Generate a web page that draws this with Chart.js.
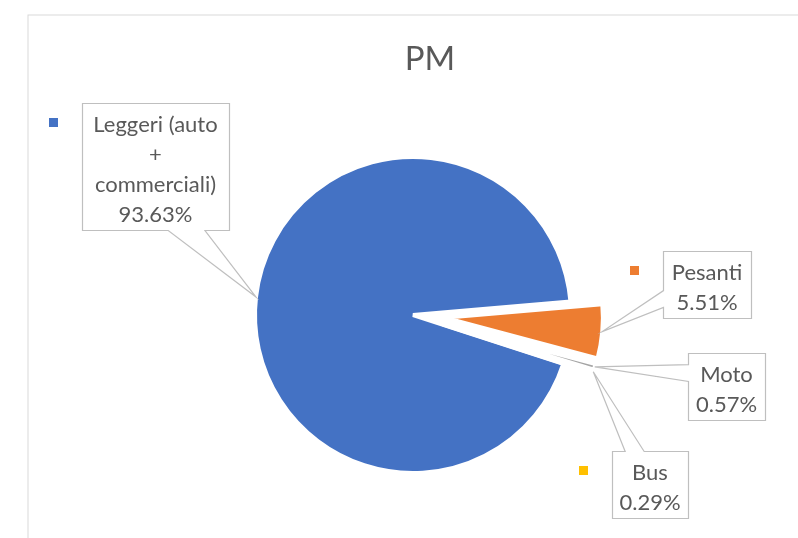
<!DOCTYPE html>
<html>
<head>
<meta charset="utf-8">
<title>PM</title>
<script src="https://cdn.jsdelivr.net/npm/chart.js@4.4.1/dist/chart.umd.min.js"></script>
<style>
    html, body { margin: 0; padding: 0; background: #fff; }
</style>
</head>
<body>
<canvas id="pmChart" width="798" height="538"></canvas>
<script>
const categories = ["Leggeri (auto + commerciali)", "Pesanti", "Moto", "Bus"];
const shares = [93.63, 5.51, 0.57, 0.29];
const sliceColors = ["#4472C4", "#ED7D31", "#A5A5A5", "#FFC000"];

// how far each slice is pulled out of the pie (px)
const explode = [0, 32, 31, 31];

// callout boxes: top-left corner and width, height follows the text
const callouts = [
    { x: 82, y: 103, w: 147 },
    { x: 663, y: 251, w: 88 },
    { x: 688, y: 353, w: 77 },
    { x: 612, y: 451, w: 76 },
];

const textColor = "#595959";
const labelFont = "22px Lato";
const lineH = 30;

function wrapText(ctx, text, maxW) {
    var words = text.split(" ");
    var lines = [];
    var cur = "";
    for (var i in words) {
        var test = cur ? cur + " " + words[i] : words[i];
        if (cur && ctx.measureText(test).width > maxW) {
            lines.push(cur);
            cur = words[i];
        } else {
            cur = test;
        }
    }
    if (cur) lines.push(cur);
    return lines;
}

// rectangle callout with a wedge pointing at (tx, ty)
function drawCallout(ctx, b, tx, ty) {
    var x0 = b.x + 0.5, y0 = b.y + 0.5;
    var x1 = x0 + b.w, y1 = y0 + b.h;
    var dx = (tx - (x0 + b.w / 2)) / b.w;
    var dy = (ty - (y0 + b.h / 2)) / b.h;
    var side;
    if (Math.abs(dx) > Math.abs(dy)) side = dx > 0 ? "right" : "left";
    else side = dy > 0 ? "bottom" : "top";
    var fx = dx > 0 ? [7 / 12, 10 / 12] : [2 / 12, 5 / 12];
    var fy = dy > 0 ? [7 / 12, 10 / 12] : [2 / 12, 5 / 12];

    ctx.beginPath();
    ctx.moveTo(x0, y0);
    if (side === "top") {
        ctx.lineTo(x0 + b.w * fx[0], y0);
        ctx.lineTo(tx, ty);
        ctx.lineTo(x0 + b.w * fx[1], y0);
    }
    ctx.lineTo(x1, y0);
    if (side === "right") {
        ctx.lineTo(x1, y0 + b.h * fy[0]);
        ctx.lineTo(tx, ty);
        ctx.lineTo(x1, y0 + b.h * fy[1]);
    }
    ctx.lineTo(x1, y1);
    if (side === "bottom") {
        ctx.lineTo(x0 + b.w * fx[1], y1);
        ctx.lineTo(tx, ty);
        ctx.lineTo(x0 + b.w * fx[0], y1);
    }
    ctx.lineTo(x0, y1);
    if (side === "left") {
        ctx.lineTo(x0, y0 + b.h * fy[1]);
        ctx.lineTo(tx, ty);
        ctx.lineTo(x0, y0 + b.h * fy[0]);
    }
    ctx.closePath();
    ctx.fillStyle = "#ffffff";
    ctx.fill();
    ctx.strokeStyle = "#BFBFBF";
    ctx.lineWidth = 1.2;
    ctx.lineJoin = "miter";
    ctx.stroke();
}

const explodePlugin = {
    id: "explodeSlices",
    afterUpdate: function (chart) {
        var arcs = chart.getDatasetMeta(0).data;
        arcs.forEach(function (arc, i) {
            var d = explode[i] || 0;
            var mid = (arc.startAngle + arc.endAngle) / 2;
            arc.x += Math.cos(mid) * d;
            arc.y += Math.sin(mid) * d;
        });
    },
};

const framePlugin = {
    id: "frameTitle",
    beforeDraw: function (chart) {
        var ctx = chart.ctx;
        ctx.save();
        ctx.fillStyle = "#ffffff";
        ctx.fillRect(0, 0, chart.width, chart.height);
        ctx.strokeStyle = "#D9D9D9";
        ctx.lineWidth = 1;
        ctx.strokeRect(28, 15, 900, 700);
        ctx.fillStyle = textColor;
        ctx.font = "33px Lato";
        ctx.textAlign = "center";
        ctx.textBaseline = "middle";
        ctx.fillText("PM", 430, 59);
        ctx.restore();
    },
};

const calloutPlugin = {
    id: "calloutLabels",
    afterDatasetsDraw: function (chart) {
        var ctx = chart.ctx;
        var arcs = chart.getDatasetMeta(0).data;
        ctx.save();
        ctx.font = labelFont;
        var boxes = callouts.map(function (c, i) {
            var lines = wrapText(ctx, categories[i], c.w - 20);
            lines.push(shares[i].toFixed(2) + "%");
            return { x: c.x, y: c.y, w: c.w, h: lines.length * lineH + 7, lines: lines };
        });

        // legend keys go first, a callout can cover them
        boxes.forEach(function (b, i) {
            ctx.fillStyle = sliceColors[i];
            ctx.fillRect(b.x - 33, b.y + 15, 9, 9);
        });

        boxes.forEach(function (b, i) {
            var arc = arcs[i];
            var mid = (arc.startAngle + arc.endAngle) / 2;
            var tx = arc.x + Math.cos(mid) * arc.outerRadius;
            var ty = arc.y + Math.sin(mid) * arc.outerRadius;
            drawCallout(ctx, b, tx, ty);

            ctx.fillStyle = textColor;
            ctx.font = labelFont;
            ctx.textAlign = "center";
            ctx.textBaseline = "middle";
            b.lines.forEach(function (line, j) {
                ctx.fillText(line, b.x + b.w / 2, b.y + 7 + lineH / 2 + j * lineH);
            });
        });
        ctx.restore();
    },
};

var ctx = document.getElementById("pmChart").getContext("2d");
var chart = new Chart(ctx, {
    type: "pie",
    data: {
        labels: categories,
        datasets: [
            {
                data: shares,
                backgroundColor: sliceColors,
                borderColor: "#ffffff",
                borderWidth: 4,
                radius: 158,
            },
        ],
    },
    options: {
        responsive: false,
        animation: false,
        events: [],
        rotation: 108,
        layout: {
            padding: { left: 28, right: 0, top: 92, bottom: 0 },
        },
        plugins: {
            legend: { display: false },
            title: { display: false },
            tooltip: { enabled: false },
        },
    },
    plugins: [explodePlugin, framePlugin, calloutPlugin],
});
</script>
</body>
</html>
